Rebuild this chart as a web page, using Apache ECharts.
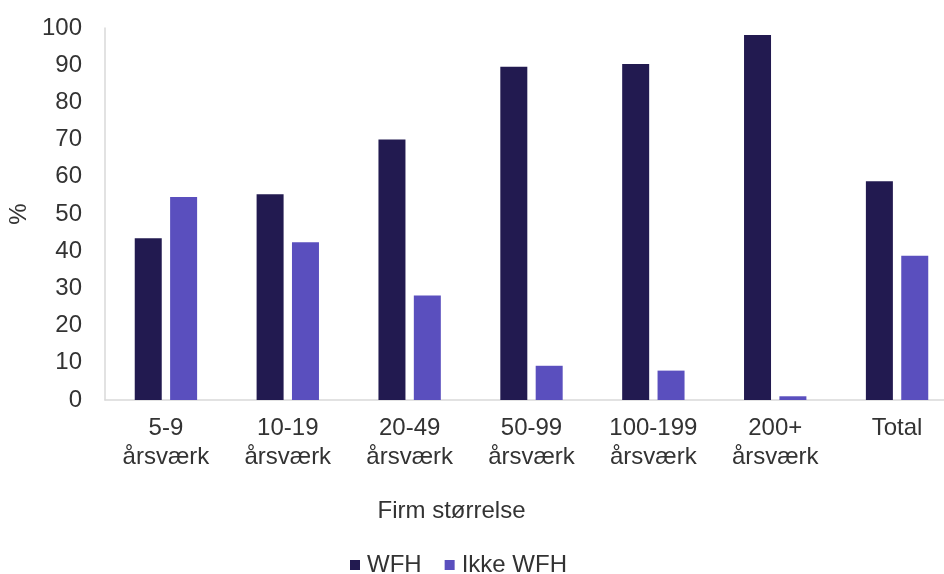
<!DOCTYPE html>
<html>
<head>
<meta charset="utf-8">
<script src="https://cdn.jsdelivr.net/npm/echarts@6/dist/echarts.min.js"></script>
<style>
html,body{margin:0;padding:0;background:#fff;}
#chart{width:944px;height:574px;}
</style>
</head>
<body>
<div id="chart"></div>
<script>
const categories = ['5-9\nårsværk', '10-19\nårsværk', '20-49\nårsværk', '50-99\nårsværk', '100-199\nårsværk', '200+\nårsværk', 'Total'];
const wfh = [43.5, 55.3, 70.0, 89.6, 90.3, 98.1, 58.8];
const ikkeWfh = [54.6, 42.4, 28.1, 9.2, 7.9, 1.0, 38.8];
const yTicks = [0, 10, 20, 30, 40, 50, 60, 70, 80, 90, 100];

const FONT = '"Liberation Sans", Arial, sans-serif';
const TXT = '#333333';
const chart = echarts.init(document.getElementById('chart'));
chart.setOption({
  animation: false,
  backgroundColor: '#fff',
  grid: { left: 105, top: 28, bottom: 174, width: 853, containLabel: false, outerBoundsMode: 'none' },
  legend: {
    left: 345, top: 548,
    itemWidth: 10, itemHeight: 10, itemGap: 23,
    icon: 'rect',
    textStyle: { fontFamily: FONT, fontSize: 24, color: TXT, padding: [0, 0, 0, 2] },
    data: ['WFH', 'Ikke WFH']
  },
  xAxis: {
    type: 'category',
    data: categories,
    name: 'Firm størrelse',
    nameLocation: 'middle',
    nameGap: 99,
    nameTextStyle: { fontFamily: FONT, fontSize: 24, color: TXT, padding: [0, 160, 0, 0] },
    axisLine: { lineStyle: { color: '#d9d9d9', width: 1.5 } },
    axisTick: { show: false },
    axisLabel: { fontFamily: FONT, fontSize: 24, color: TXT, lineHeight: 29, margin: 14, interval: 0 }
  },
  yAxis: {
    type: 'value',
    min: yTicks[0], max: yTicks[yTicks.length - 1], interval: 10,
    name: '%',
    nameLocation: 'middle',
    nameRotate: 90,
    nameGap: 72,
    nameTextStyle: { fontFamily: FONT, fontSize: 24, color: TXT },
    axisLine: { show: true, lineStyle: { color: '#d9d9d9', width: 1.5 } },
    axisTick: { show: false },
    splitLine: { show: false },
    axisLabel: { fontFamily: FONT, fontSize: 24, color: TXT, margin: 23 }
  },
  series: [
    { name: 'WFH', type: 'bar', data: wfh, barWidth: 27, barGap: '31%', itemStyle: { color: '#221a50' } },
    { name: 'Ikke WFH', type: 'bar', data: ikkeWfh, barWidth: 27, itemStyle: { color: '#5a4fbe' } }
  ]
});
</script>
</body>
</html>
